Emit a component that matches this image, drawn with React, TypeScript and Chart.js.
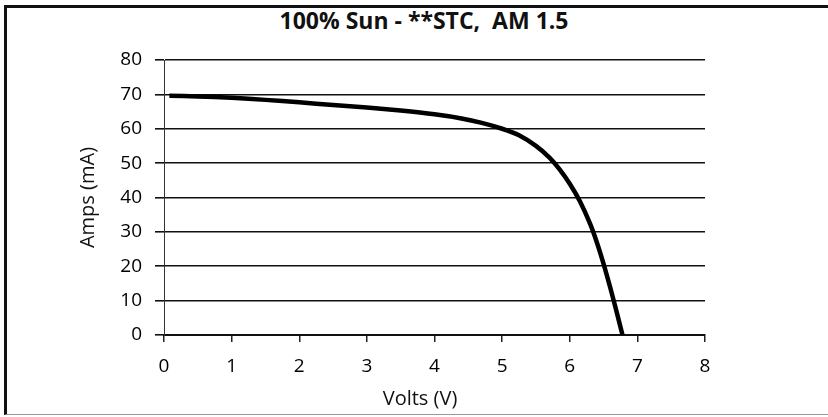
import React, { useEffect, useRef } from "react";
import { Chart, registerables } from "chart.js";

Chart.register(...registerables);

const volts = [0.08, 0.5, 1, 1.5, 2, 2.5, 3, 3.5, 4, 4.4, 4.7, 5.0, 5.25, 5.5, 5.7, 5.85, 6.0, 6.15, 6.3, 6.4, 6.5, 6.6, 6.7, 6.78];
const amps = [69.6, 69.4, 69.0, 68.4, 67.7, 66.9, 66.2, 65.3, 64.2, 63.0, 61.7, 60.0, 58.1, 55.0, 51.6, 48.2, 44.0, 38.9, 32.4, 27.0, 20.7, 13.7, 6.2, 0];
const titleText = "100% Sun - **STC,  AM 1.5";
const xTitle = "Volts (V)";
const yTitle = "Amps (mA)";

const FONT = "'Open Sans', Lato, sans-serif";

export default function App() {
  const ref = useRef<HTMLCanvasElement | null>(null);

  useEffect(() => {
    document.body.style.margin = "0";
    const points = volts.map((v, i) => ({ x: v, y: amps[i] }));
    const chart = new Chart(ref.current!, {
      type: "line",
      data: {
        datasets: [
          {
            data: points,
            borderColor: "#000",
            borderWidth: 4.5,
            pointRadius: 0,
            tension: 0.3,
            fill: false,
          },
        ],
      },
      options: {
        animation: false,
        responsive: false,
        events: [],
        layout: { padding: { left: 75, right: 123, top: 60, bottom: 8 } },
        plugins: {
          legend: { display: false },
          tooltip: { enabled: false },
          title: { display: false },
        },
        scales: {
          x: {
            type: "linear",
            min: 0,
            max: 8,
            afterFit: (s: any) => {
              s.height = 74;
            },
            ticks: {
              stepSize: 1,
              color: "#000",
              padding: 13,
              font: { family: FONT, size: 19 },
            },
            grid: {
              drawOnChartArea: false,
              drawTicks: true,
              tickLength: 7,
              color: "#222",
              lineWidth: 1.5,
            },
            border: { color: "#111", width: 2 },
            title: { display: false, text: xTitle },
          },
          y: {
            type: "linear",
            min: 0,
            max: 80,
            afterFit: (s: any) => {
              s.width = 89;
            },
            ticks: {
              stepSize: 10,
              color: "#000",
              padding: 13,
              font: { family: FONT, size: 19 },
            },
            grid: {
              color: "#111",
              lineWidth: 1.6,
              tickLength: 9,
            },
            border: { color: "#333", width: 1 },
            title: {
              display: true,
              text: yTitle,
              color: "#111",
              font: { family: FONT, size: 20 },
              padding: { top: 1, bottom: 4 },
            },
          },
        },
      },
    });
    return () => chart.destroy();
  }, []);

  return (
    <div style={{ position: "relative", width: 828, height: 417, background: "#fff", overflow: "hidden" }}>
      <div
        style={{
          position: "absolute",
          left: 4,
          top: 5,
          width: 840,
          height: 410,
          borderLeft: "3px solid #111",
          borderTop: "3px solid #111",
          borderBottom: "1px solid #999",
          boxSizing: "border-box",
        }}
      />
      <div
        style={{
          position: "absolute",
          left: 174,
          width: 500,
          top: 4,
          textAlign: "center",
          whiteSpace: "pre",
          fontFamily: FONT,
          fontWeight: 700,
          fontSize: 23,
          color: "#111",
        }}
      >
        {titleText}
      </div>
      <canvas ref={ref} width={828} height={417} style={{ position: "absolute", left: 0, top: 0 }} />
      <div
        style={{
          position: "absolute",
          left: 320,
          width: 200,
          top: 385,
          textAlign: "center",
          whiteSpace: "pre",
          fontFamily: FONT,
          fontSize: 20,
          color: "#111",
          lineHeight: "26px",
        }}
      >
        {xTitle}
      </div>
    </div>
  );
}
